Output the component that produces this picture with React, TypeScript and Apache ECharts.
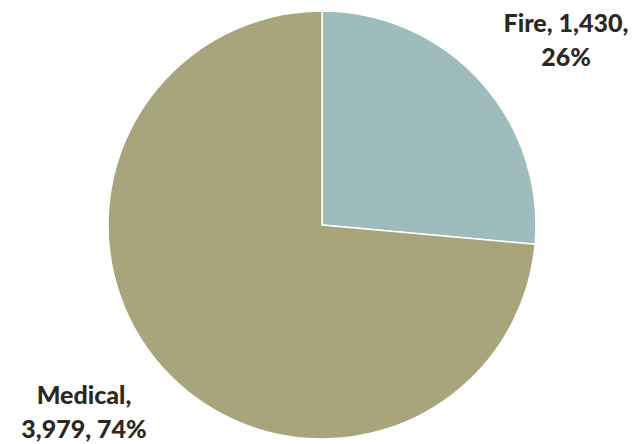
import React, { useEffect, useRef } from "react";
import * as echarts from "echarts";

const categories = ["Fire", "Medical"];
const values = [1430, 3979];
const colors = ["#9dbcbb", "#a8a47b"];

export default function App() {
  const ref = useRef<HTMLDivElement>(null);
  useEffect(() => {
    if (!ref.current) return;
    const chart = echarts.init(ref.current, null, { renderer: "svg" });
    const fmt = (n: number) => n.toLocaleString("en-US");
    chart.setOption({
      animation: false,
      backgroundColor: "#ffffff",
      series: [
        {
          type: "pie",
          center: [322, 225],
          radius: 214,
          startAngle: 90,
          clockwise: true,
          percentPrecision: 0,
          data: categories.map((c, i) => ({
            name: c,
            value: values[i],
            itemStyle: { color: colors[i] },
          })),
          itemStyle: { borderColor: "#ffffff", borderWidth: 1.5 },
          label: {
            show: true,
            position: "outside",
            color: "#2b281e",
            fontFamily: "Lato",
            fontWeight: 900,
            fontSize: 25,
            lineHeight: 34,
            align: "center",
            overflow: "none",
            width: 200,
            formatter: (p: any) =>
              p.dataIndex === 0
                ? `${p.name}, ${fmt(p.value)},\n${p.percent}%`
                : `${p.name},\n${fmt(p.value)}, ${p.percent}%`,
          },
          labelLine: { show: false },
          labelLayout: (p: any) =>
            p.dataIndex === 0
              ? { x: 566, y: 39, align: "center", verticalAlign: "middle" }
              : { x: 84, y: 411, align: "center", verticalAlign: "middle" },
          emphasis: { disabled: true },
        },
      ],
    });
    return () => chart.dispose();
  }, []);
  return (
    <div
      ref={ref}
      style={{ position: "fixed", left: 0, top: 0, width: 636, height: 444 }}
    />
  );
}
